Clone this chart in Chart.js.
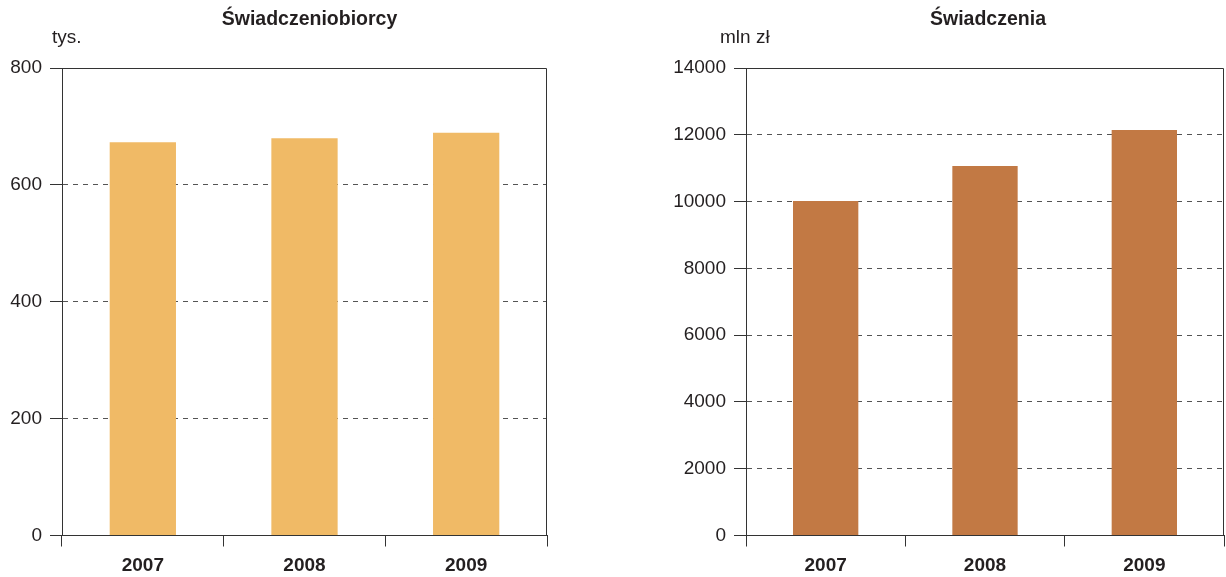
<!DOCTYPE html>
<html>
<head>
<meta charset="utf-8">
<script src="https://cdn.jsdelivr.net/npm/chart.js@4.4.0/dist/chart.umd.min.js"></script>
<style>
  body { margin: 0; background: #fff; }
  .box { position: absolute; top: 0; width: 613px; height: 577px; }
</style>
</head>
<body>
<div class="box" style="left:0"><canvas id="chartOsoby"></canvas></div>
<div class="box" style="left:613px"><canvas id="chartKwoty"></canvas></div>
<script>
var lata = ['2007', '2008', '2009'];
var swiadczeniobiorcy = [673, 680, 689];
var swiadczenia = [10020, 11065, 12145];
var ticksOsoby = [0, 200, 400, 600, 800];
var ticksKwoty = [0, 2000, 4000, 6000, 8000, 10000, 12000, 14000];

var FONT = '"Liberation Sans", Arial, sans-serif';

// title, unit label and the top/right frame of the plot
var ramka = {
  id: 'ramka',
  afterDraw: function (chart, args, opts) {
    var ctx = chart.ctx;
    var a = chart.chartArea;
    ctx.save();
    ctx.strokeStyle = '#333';
    ctx.lineWidth = 1;
    ctx.beginPath();
    ctx.moveTo(a.left, a.top + 0.5);
    ctx.lineTo(a.right - 0.5, a.top + 0.5);
    ctx.lineTo(a.right - 0.5, a.bottom);
    ctx.stroke();
    ctx.fillStyle = '#231f20';
    ctx.textBaseline = 'middle';
    ctx.textAlign = 'center';
    ctx.font = 'bold 19.5px ' + FONT;
    ctx.fillText(opts.title, (a.left + a.right) / 2 + opts.shift, 20);
    ctx.textAlign = 'left';
    ctx.font = '19px ' + FONT;
    ctx.fillText(opts.unit, a.left - opts.unitOffset, 38);
    ctx.restore();
  }
};

function makeChart(id, values, ticks, color, yWidth, padRight, title, unit, shift, unitOffset) {
  var maxV = ticks[ticks.length - 1];
  return new Chart(document.getElementById(id), {
    type: 'bar',
    data: {
      labels: lata,
      datasets: [{
        data: values,
        backgroundColor: color,
        barPercentage: 0.41,
        categoryPercentage: 1.0
      }]
    },
    options: {
      responsive: true,
      maintainAspectRatio: false,
      animation: false,
      layout: {
        padding: { left: 0, right: padRight, top: 68, bottom: 0 }
      },
      scales: {
        x: {
          grid: {
            offset: true,
            drawOnChartArea: false,
            drawTicks: true,
            tickLength: 11,
            color: '#333'
          },
          border: { display: true, color: '#333', width: 1 },
          ticks: {
            color: '#231f20',
            padding: 8,
            font: { family: FONT, size: 19, weight: 'bold' }
          },
          afterFit: function (scale) { scale.height = 41.5; }
        },
        y: {
          min: 0,
          max: maxV,
          afterBuildTicks: function (scale) {
            scale.ticks = ticks.map(function (v) { return { value: v }; });
          },
          grid: {
            color: function (c) {
              return (c.tick && (c.tick.value === 0 || c.tick.value === maxV)) ? 'rgba(0,0,0,0)' : '#555';
            },
            tickColor: '#333',
            tickLength: 12,
            tickBorderDash: []
          },
          border: { display: true, color: '#333', width: 1, dash: [5, 5] },
          ticks: {
            color: '#231f20',
            padding: 8,
            font: { family: FONT, size: 19 },
            callback: function (value) { return String(value); }
          },
          afterFit: function (scale) { scale.width = yWidth; }
        }
      },
      plugins: {
        legend: { display: false },
        tooltip: { enabled: false },
        ramka: { title: title, unit: unit, shift: shift, unitOffset: unitOffset }
      }
    },
    plugins: [ramka]
  });
}

makeChart('chartOsoby', swiadczeniobiorcy, ticksOsoby, '#F0BA66', 62, 66, 'Świadczeniobiorcy', 'tys.', 5, 10);
makeChart('chartKwoty', swiadczenia, ticksKwoty, '#C27944', 133, 2, 'Świadczenia', 'mln zł', 3, 26);
</script>
</body>
</html>
